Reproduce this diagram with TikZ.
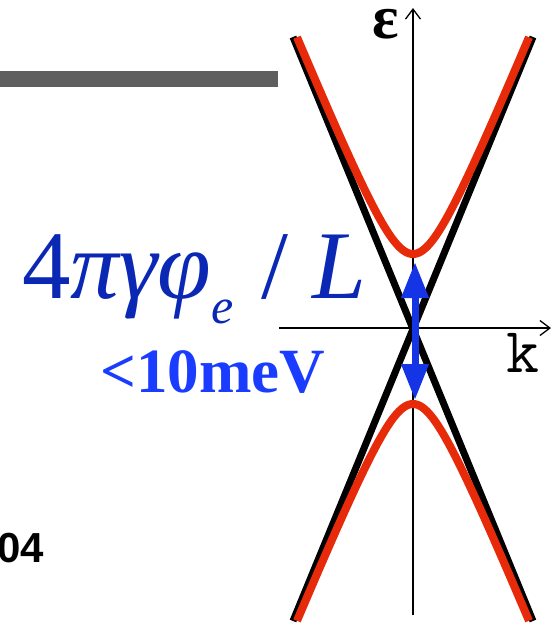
\documentclass[tikz,border=0pt]{standalone}
\usepackage{fontspec}
\setmainfont{Liberation Serif}
\newfontfamily\labelsans{Liberation Sans}
\usetikzlibrary{arrows.meta,positioning,calc}
\definecolor{ink}{HTML}{000000}
\definecolor{bargray}{HTML}{5F5F5F}
\definecolor{bandred}{HTML}{E62A0A}
\definecolor{deepblue}{HTML}{0A28B4}
\definecolor{gapblue}{HTML}{1A3CFF}
\definecolor{arrblue}{HTML}{1434E6}
\tikzset{
  axisline/.style={draw=ink,line width=1.3pt,-{Straight Barb[length=10pt,width=15pt,line width=1.3pt]}},
  cone/.style={draw=ink,line width=7pt},
  band/.style={draw=bandred,line width=8pt},
  gaparr/.style={draw=arrblue,line width=7pt,
                 {Triangle[length=36pt,width=26pt]}-{Triangle[length=36pt,width=26pt]}},
  bar/.style={fill=bargray,draw=none},
  biglabel/.style={inner sep=0pt,font=\fontsize{97}{97}\selectfont,text=deepblue},
  gaplabel/.style={inner sep=0pt,font=\fontsize{63}{63}\selectfont\bfseries,text=gapblue}
}

\begin{document}
\begin{tikzpicture}[x=1pt,y=-1pt]
  \clip (0,0) rectangle (557,625);
  \useasboundingbox (0,0) rectangle (557,625);
  % grey bar at the top
  \fill[bar] (0,71) rectangle (278,87);
  % axes
  \coordinate (kl) at (279,328);
  \coordinate (kr) at (551,328);
  \coordinate (eb) at (413,615);
  \coordinate (et) at (413,8);
  \draw[axisline] (kl) -- (kr);
  \draw[axisline] (eb) -- (et);
  \node[inner sep=0pt,anchor=base,font=\fontsize{62}{62}\selectfont\bfseries] (eps) at (386,38) {ε};
  \node[inner sep=0pt,anchor=base,font=\ttfamily\fontsize{64}{64}\selectfont] (klab) at (523,372) {k};
  % massless cone
  \coordinate (c1) at (293,37);
  \coordinate (c2) at (533,621);
  \coordinate (c3) at (533,37);
  \coordinate (c4) at (293,621);
  \draw[cone] (c1) -- (c2);
  \draw[cone] (c3) -- (c4);
  % gapped bands
  \draw[band] plot[domain=-116:116,samples=121] ({413+\x},{329-100*sqrt((0.0243*\x)^2+0.75^2)});
  \draw[band] plot[domain=-116:116,samples=121] ({413+\x},{329+100*sqrt((0.0243*\x)^2+0.75^2)});
  % gap arrow
  \coordinate (gt) at (415,262);
  \coordinate (gb) at (415,400);
  \draw[gaparr] (gb) -- (gt);
  % labels
  \node[biglabel,anchor=base west] (gapf) at (22,298)
    {4\textit{πγφ}\raisebox{-25pt}{\fontsize{50}{50}\selectfont\itshape e}\hspace{4pt} / \textit{L}};
  \node[gaplabel,anchor=base] (gapv) at (213,392) {<10meV};
  \node[inner sep=0pt,anchor=base east,font=\labelsans\fontsize{42}{42}\selectfont\bfseries] (yr) at (44,562) {04};
\end{tikzpicture}
\end{document}
